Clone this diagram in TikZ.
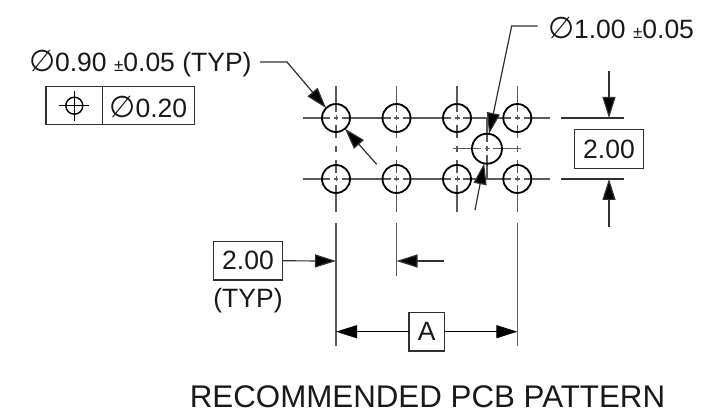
\documentclass[tikz,border=0pt]{standalone}
\usepackage{fontspec}
\setmainfont{Liberation Sans}
\newfontfamily\symfont{DejaVu Sans}
\usetikzlibrary{arrows.meta}
\newcommand{\dia}{{\symfont\fontsize{30}{30}\selectfont ∅}}
\newcommand{\pmsm}{{\fontsize{17}{17}\selectfont ±}}
\definecolor{cl}{HTML}{5A5A5A}
\definecolor{ld}{HTML}{303030}
\tikzset{
 x=1pt,y=-1pt,
 txt/.style={inner sep=0pt,outer sep=0pt,font=\fontsize{26.5}{26.5}\selectfont,text=black!90},
 hole/.style={circle,draw=black,line width=1.8pt,inner sep=0pt,outer sep=0pt,minimum size=28pt},
 bigh/.style={hole,minimum size=30pt},
 cen/.style={draw=cl,line width=1.5pt},
 ext/.style={draw=cl,line width=1.5pt},
 lead/.style={draw=ld,line width=1.2pt},
 dim/.style={draw=ld,line width=1.2pt,-{Triangle[length=21pt,width=13pt,fill=black]}},
 tbox/.style={txt,draw=ld,line width=1.2pt,anchor=center},
}
\begin{document}
\begin{tikzpicture}
\useasboundingbox (0,0) rectangle (716,417);
% centre lines
\foreach \y in {118,179}{
 \draw[cen] (303,\y)--(330,\y) (334,\y)--(338,\y) (342,\y)--(390.5,\y) (394,\y)--(399,\y) (403,\y)--(451,\y) (454.5,\y)--(459.5,\y) (463,\y)--(511,\y) (515,\y)--(520,\y) (523.5,\y)--(550,\y);
 \foreach \x in {336,396.5,457,517.3}{
  \draw[cen,line width=1pt] (\x,\y-2.5)--(\x,\y+2.5);
 }
}
\foreach \x in {336,396.5,457,517.3}{
 \draw[cen] (\x,86)--(\x,112) (\x,125)--(\x,138) (\x,146)--(\x,152) (\x,160)--(\x,173) (\x,185)--(\x,212);
}
\draw[cen,line width=1.2pt] (453,148.7)--(481,148.7) (484.5,148.7)--(489.5,148.7) (493,148.7)--(521,148.7);
\draw[cen,line width=1.2pt] (487,118)--(487,142.5) (487,146.2)--(487,151.2) (487,155)--(487,180);
% extension lines
\draw[ext] (336,223)--(336,346) (517.3,223)--(517.3,346) (396.5,223)--(396.5,276);
\draw[ext,draw=ld,line width=1.2pt] (561,118)--(624,118) (561,179)--(624,179);
% holes
\foreach \n/\x/\y in {a/336/118,b/396.5/118,c/457/118,d/517.3/118,e/336/179,f/396.5/179,g/457/179,h/517.3/179}{
 \node[hole] (\n) at (\x,\y) {};
}
\node[bigh] (o) at (487,148.7) {};
% labels
\node[txt,anchor=west] (l90) at (29,64) {\dia0.90 \pmsm0.05 (TYP)};
\node[txt,anchor=west] (l100) at (548,28) {\dia1.00 \pmsm0.05};
\node[tbox,minimum width=148.3pt,minimum height=38pt] (fcf) at (120.15,105.7) {};
\node[txt,anchor=center] (ft) at (148.3,106.5) {\dia0.20};
\coordinate (fa) at (102.3,86.7);
\coordinate (fb) at (102.3,124.7);
\draw[lead] (fa)--(fb);
\node[circle,draw=black,line width=1.4pt,minimum size=17pt,inner sep=0pt] (sym) at (74.3,105.7) {};
\coordinate (s1) at (59.3,105.7);\coordinate (s2) at (89.3,105.7);\coordinate (s3) at (74.3,90.7);\coordinate (s4) at (74.3,120.7);
\draw[draw=black,line width=1.4pt] (s1)--(s2) (s3)--(s4);
\node[tbox,minimum width=69.4pt,minimum height=38.6pt] (dv) at (609,149) {2.00};
\node[tbox,minimum width=69.4pt,minimum height=38.3pt] (dh) at (248,260.8) {2.00};
\node[txt] (typ) at (248,301) {(TYP)};
\node[tbox,minimum width=35.3pt,minimum height=38.5pt] (da) at (426.6,331.7) {A};
\node[txt] (title) at (427.5,397) {\fontsize{31.3}{32}\selectfont RECOMMENDED PCB PATTERN};
% leaders
\coordinate (e1) at (287,62);\coordinate (s90) at (260,62);
\draw[dim] (s90)--(e1)--(a.135);
\coordinate (t1) at (376.7,164.3);
\draw[dim] (t1)--(a.-50);
\coordinate (s100) at (537.7,26);\coordinate (e2) at (511.7,26);
\draw[dim] (s100)--(e2)--(o.82);
\coordinate (t2) at (475,210);
\draw[dim] (t2)--(o.259);
% dimensions
\coordinate (v1) at (609,71);\coordinate (v1t) at (609,118);
\coordinate (v2) at (609,226.7);\coordinate (v2t) at (609,179);
\draw[dim] (v1)--(v1t);
\draw[dim] (v2)--(v2t);
\coordinate (h1t) at (336,261);\coordinate (h2) at (444,261);\coordinate (h2t) at (396.5,261);
\draw[dim] (dh.east)--(h1t);
\draw[dim] (h2)--(h2t);
\coordinate (a1) at (336,331.7);\coordinate (a2) at (517.3,331.7);
\draw[dim,draw=black] (da.west)--(a1);
\draw[dim,draw=black] (da.east)--(a2);
\end{tikzpicture}
\end{document}
